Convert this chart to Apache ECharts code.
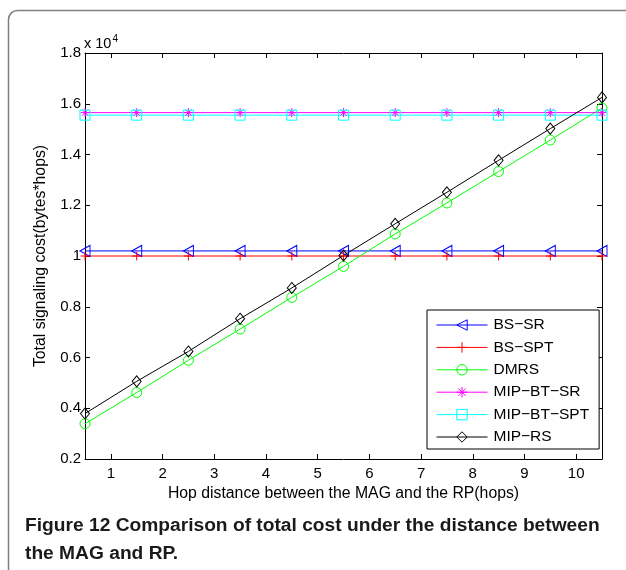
<!DOCTYPE html>
<html><head><meta charset="utf-8">
<script src="https://cdn.jsdelivr.net/npm/echarts@6/dist/echarts.min.js"></script>
<style>html,body{margin:0;padding:0;background:#fff}#c{width:626px;height:570px}</style>
</head><body><div id="c"></div>
<script>
const hops = [0.5,1.5,2.5,3.5,4.5,5.5,6.5,7.5,8.5,9.5,10.5];
const bsSR     = [10200,10200,10200,10200,10200,10200,10200,10200,10200,10200,10200];
const bsSPT    = [10000,10000,10000,10000,10000,10000,10000,10000,10000,10000,10000];
const dmrs     = [3390,4620,5890,7120,8370,9590,10870,12090,13330,14570,15830];
const mipBtSR  = [15650,15650,15650,15650,15650,15650,15650,15650,15650,15650,15650];
const mipBtSPT = [15550,15550,15550,15550,15550,15550,15550,15550,15550,15550,15550];
const mipRS    = [3790,5060,6240,7530,8740,10020,11270,12510,13770,15020,16250];
const yTicks = ['0.2','0.4','0.6','0.8','1','1.2','1.4','1.6','1.8'];

const FONT = '"Liberation Sans", Arial, sans-serif';
const chart = echarts.init(document.getElementById('c'), null, {renderer:'canvas'});

function mk(name, data, color, symbol, size){
  return {
    name, type:'line', data: hops.map((x,i)=>[x,data[i]]),
    symbol, symbolSize:size, showAllSymbol:true,
    lineStyle:{color, width:1},
    itemStyle:{color:'none', borderColor:color, borderWidth:1},
    emphasis:{disabled:true}, animation:false, z: 2
  };
}
const tri = 'path://M-1,0 L1,-1 L1,1 Z';
const plus = 'path://M0,-1 L0,1 M-1,0 L1,0';
const circ = 'path://M1,0 A1,1 0 1 1 -1,0 A1,1 0 1 1 1,0 Z';
const star = 'path://M0,-1 L0,1 M-1,0 L1,0 M-0.7,-0.7 L0.7,0.7 M-0.7,0.7 L0.7,-0.7';
const sq = 'path://M-1,-1 L1,-1 L1,1 L-1,1 Z';
const dia = 'path://M0,-1 L1,0 L0,1 L-1,0 Z';

const axisCommon = {
  axisLine:{show:true, onZero:false, lineStyle:{color:'#000', width:1}},
  axisTick:{show:true, inside:true, length:5, lineStyle:{color:'#000'}},
  splitLine:{show:false}
};

chart.setOption({
  animation:false,
  backgroundColor:'#fff',
  grid:{left:85, right:24, top:53, bottom:111, containLabel:false},
  xAxis:[
    Object.assign({type:'value', min:0.5, max:10.5, minInterval:1, maxInterval:1, position:'bottom',
      name:'Hop distance between the MAG and the RP(hops)', nameLocation:'middle', nameGap:26,
      nameTextStyle:{fontFamily:FONT, fontSize:15.8, color:'#000'},
      axisLabel:{fontFamily:FONT, fontSize:15, color:'#000', margin:7, showMinLabel:false, showMaxLabel:false}}, axisCommon),
    Object.assign({type:'value', min:0.5, max:10.5, minInterval:1, maxInterval:1, position:'top',
      axisLabel:{show:false}}, axisCommon)
  ],
  yAxis:[
    Object.assign({type:'value', min:2000, max:18000, interval:2000, position:'left',
      name:'Total signaling cost(bytes*hops)', nameLocation:'middle', nameGap:36,
      nameTextStyle:{fontFamily:FONT, fontSize:15.8, color:'#000'},
      axisLabel:{fontFamily:FONT, fontSize:15, color:'#000', margin:4,
        formatter:(v)=>yTicks[Math.round((v-2000)/2000)]}}, axisCommon),
    Object.assign({type:'value', min:2000, max:18000, interval:2000, position:'right',
      axisLabel:{show:false}}, axisCommon)
  ],
  legend:{
    orient:'vertical', left:427, top:310, width:166,
    padding:[6,10,3,9], itemGap:4.4, itemWidth:51, itemHeight:13,
    backgroundColor:'#fff', borderColor:'#000', borderWidth:1,
    lineStyle:{width:1},
    itemStyle:{color:'transparent', borderWidth:1},
    textStyle:{fontFamily:FONT, fontSize:15.5, color:'#000', padding:[0,0,0,1], lineHeight:18},
    data:['BS\u2212SR','BS\u2212SPT','DMRS','MIP\u2212BT\u2212SR','MIP\u2212BT\u2212SPT','MIP\u2212RS'],
    selectedMode:false
  },
  series:[
    mk('BS\u2212SR', bsSR, '#0000ff', tri, [10,11]),
    mk('BS\u2212SPT', bsSPT, '#ff0000', plus, 9),
    mk('DMRS', dmrs, '#00ff00', circ, 10),
    mk('MIP\u2212BT\u2212SR', mipBtSR, '#ff00ff', star, 9),
    mk('MIP\u2212BT\u2212SPT', mipBtSPT, '#00ffff', sq, 10),
    mk('MIP\u2212RS', mipRS, '#000000', dia, [9,11])
  ],
  graphic:[
    {type:'rect', shape:{x:8.5, y:10.5, width:700, height:700, r:9}, style:{fill:'none', stroke:'#808080', lineWidth:1.5}, z:-1, silent:true},
    {type:'text', left:84, top:34, style:{text:'x 10{s|4}', rich:{s:{fontSize:10, verticalAlign:'top', padding:[0,0,10,1], fontFamily:FONT, fill:'#000'}}, fontFamily:FONT, fontSize:14.5, fill:'#000'}},
    {type:'text', left:25, top:516, style:{text:'Figure 12 Comparison of total cost under the distance between', fontFamily:FONT, fontWeight:'bold', fontSize:19.2, fill:'#1a1a1a'}},
    {type:'text', left:25, top:544, style:{text:'the MAG and RP.', fontFamily:FONT, fontWeight:'bold', fontSize:19.2, fill:'#1a1a1a'}}
  ]
});
</script></body></html>
